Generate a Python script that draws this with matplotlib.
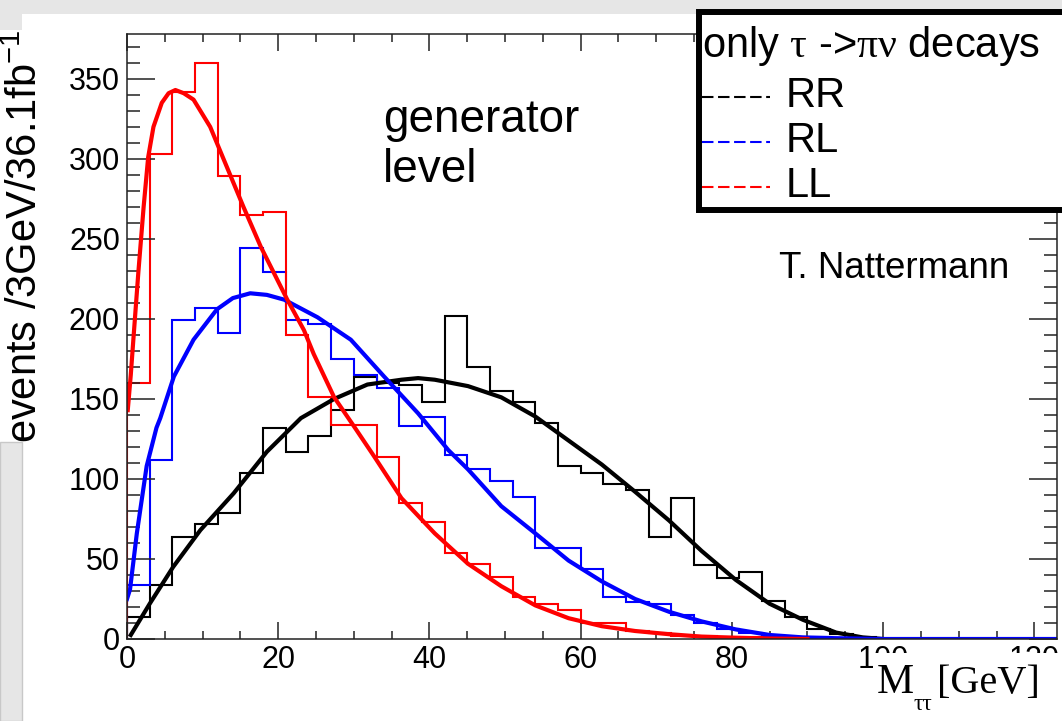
import numpy as np
import matplotlib
matplotlib.use('Agg')
import matplotlib.pyplot as plt
from matplotlib.patches import Rectangle
from matplotlib.lines import Line2D

plt.rcParams['font.family'] = ['Liberation Sans', 'DejaVu Sans']
plt.rcParams['mathtext.fontset'] = 'custom'
plt.rcParams['mathtext.rm'] = 'Liberation Serif'
plt.rcParams['mathtext.default'] = 'regular'

W, H = 1062, 721

# ---- data ----
# histograms, 3 GeV bins from 0 to 123 GeV
bin_edges = np.arange(0, 124, 3)

rr_counts = [14, 34, 64, 72, 79, 104, 132, 117, 127, 143, 164, 160, 159, 148, 202,
             170, 155, 148, 135, 108, 104, 97, 93, 64, 88, 46, 38, 42, 24, 14,
             6, 3, 1, 0, 0, 0, 0, 0, 0, 0, 0]
rl_counts = [34, 112, 199, 207, 191, 244, 229, 199, 197, 175, 165, 157, 133, 139, 115,
             106, 99, 89, 57, 57, 44, 26, 23, 22, 15, 10, 6, 4, 2, 1,
             1, 0, 0, 0, 0, 0, 0, 0, 0, 0, 0]
ll_counts = [160, 303, 342, 360, 289, 265, 267, 190, 151, 134, 134, 114, 85, 73, 54,
             47, 39, 26, 22, 18, 10, 10, 5, 4, 2, 2, 1, 1, 0, 0,
             0, 0, 0, 0, 0, 0, 0, 0, 0, 0, 0]

# fitted curves
rr_fit_x = [0.5, 3, 6.1, 9.7, 14.1, 18.5, 23, 27.4, 31.8, 36.3, 38.5, 40.7, 45.1, 49.5,
            54, 58.4, 62.8, 67.2, 71.7, 76, 80.5, 85, 89.4, 93.8, 97.3, 100]
rr_fit_y = [2.5, 22, 45, 68, 91, 117, 138, 150, 159, 162, 163, 162, 158, 151,
            139, 124, 109, 92, 74, 55, 37, 22, 12, 4, 1, 0]

rl_fit_x = [0, 0.4, 1.3, 2.6, 3.9, 4.4, 6.2, 8.8, 11.9, 14.0, 16.3, 18.5, 20.8, 25.2,
            29.6, 34, 38.5, 42.5, 45.1, 49.5, 54, 58.4, 62.8, 67.2, 71.7, 76, 80.5,
            85, 89.4, 93.8, 100, 123]
rl_fit_y = [25, 31, 66, 108, 132, 138, 164, 187, 206, 213, 216, 215, 212, 201,
            187, 164, 141, 118, 106, 83, 66, 49, 36, 25, 17, 11, 6,
            2.5, 1, 0.5, 0, 0]

ll_fit_x = [0.1, 0.5, 0.84, 1.5, 2.2, 2.8, 3.5, 4.6, 5.5, 6.4, 7.5, 8.8, 11.0, 13.2,
            15.4, 17.7, 21.2, 23.4, 24.7, 27.4, 30.0, 32.7, 36.3, 40.7, 45.1, 49.5,
            54, 58.4, 62.8, 67.2, 71.7, 76, 80.5, 85, 90]
ll_fit_y = [143, 165, 187, 229, 270, 301, 320, 335, 341, 343, 341, 337, 320, 295,
            270, 245, 212, 193, 178, 151, 133, 114, 88, 66, 47, 33,
            21, 13, 8, 5, 3, 1.5, 0.8, 0.3, 0]

legend_labels = ['RR', 'RL', 'LL']
colors = ['black', 'blue', 'red']


def fx(px):
    return px / W


def fy(py):
    return 1 - py / H


fig = plt.figure(figsize=(W / 100, H / 100), dpi=100)

ax = fig.add_axes([fx(127), fy(639), (1057 - 127) / W, (639 - 34) / H])

for counts, fx_, fy_, c in [(rr_counts, rr_fit_x, rr_fit_y, 'black'),
                            (rl_counts, rl_fit_x, rl_fit_y, 'blue'),
                            (ll_counts, ll_fit_x, ll_fit_y, 'red')]:
    ax.stairs(counts, bin_edges, color=c, lw=1.5)
    ax.plot(fx_, fy_, color=c, lw=3, solid_joinstyle='round')

ax.set_xlim(0, 123)
ax.set_ylim(0, 378)
ax.set_xticks(range(0, 121, 20))
ax.set_xticks(np.arange(0, 123, 5), minor=True)
ax.set_yticks(range(0, 351, 50))
ax.set_yticks(np.arange(0, 378, 10), minor=True)
ax.tick_params(which='both', direction='in', top=True, right=True, color='#222222')
ax.tick_params(axis='y', which='major', length=20, width=1.1, pad=5, labelsize=22)
ax.tick_params(axis='y', which='minor', length=9.5, width=1.1)
ax.tick_params(axis='x', which='major', length=12, width=1.1, pad=4, labelsize=22)
ax.tick_params(axis='x', which='minor', length=6, width=1.1)
for s in ax.spines.values():
    s.set_linewidth(1.1)
    s.set_color('#222222')

# slide background bits (screenshot edges)
gray = '#e6e6e6'
fig.patches.append(Rectangle((0, fy(14)), 1, 14 / H, transform=fig.transFigure,
                             facecolor=gray, edgecolor='none', zorder=1))
fig.patches.append(Rectangle((0, fy(30)), fx(22), 16 / H, transform=fig.transFigure,
                             facecolor=gray, edgecolor='none', zorder=1))
fig.patches.append(Rectangle((0, 0), fx(22), fy(442), transform=fig.transFigure,
                             facecolor=gray, edgecolor='#c8c8c8', lw=1, zorder=1))

# y label
fig.text(fx(37), fy(443), 'events /3GeV/36.1fb$^{-1}$', rotation=90,
         rotation_mode='anchor', ha='left', va='baseline', fontsize=30)

# x label with white box over the last tick labels
fig.patches.append(Rectangle((fx(873), 0), 1 - fx(873), fy(653), transform=fig.transFigure,
                             facecolor='white', edgecolor='none', zorder=2))
fig.text(fx(877), fy(693), 'M', family='Liberation Serif', fontsize=30,
         ha='left', va='baseline', zorder=4)
fig.text(fx(914), fy(710), 'ττ', family='Liberation Serif', fontsize=17,
         ha='left', va='baseline', zorder=4)
fig.text(fx(937), fy(693), '[GeV]', family='Liberation Serif', fontsize=29,
         ha='left', va='baseline', zorder=4)

# annotations
fig.text(fx(383), fy(132), 'generator', fontsize=33, ha='left', va='baseline')
fig.text(fx(383), fy(182), 'level', fontsize=33, ha='left', va='baseline')
fig.text(fx(779), fy(278), 'T. Nattermann', fontsize=26.5, ha='left', va='baseline')

# legend box
fig.patches.append(Rectangle((fx(698.5), fy(210)), fx(1080) - fx(698.5), (210 - 11.5) / H,
                             transform=fig.transFigure, facecolor='white',
                             edgecolor='black', lw=4.3, zorder=2))
fig.text(fx(702), fy(57), r'only $\mathrm{τ}$ ->$\mathrm{πν}$ decays', fontsize=30,
         ha='left', va='baseline', zorder=4)
for i, (lab, c) in enumerate(zip(legend_labels, colors)):
    yl = 97 + 45 * i
    fig.lines.append(Line2D([fx(702), fx(770)], [fy(yl), fy(yl)], transform=fig.transFigure,
                            color=c, lw=1.5, linestyle=(0, (5.5, 2.2)), zorder=4))
    fig.text(fx(786), fy(yl + 10), lab, fontsize=30, ha='left', va='baseline', zorder=4)

fig.savefig('out.png', dpi=100)
